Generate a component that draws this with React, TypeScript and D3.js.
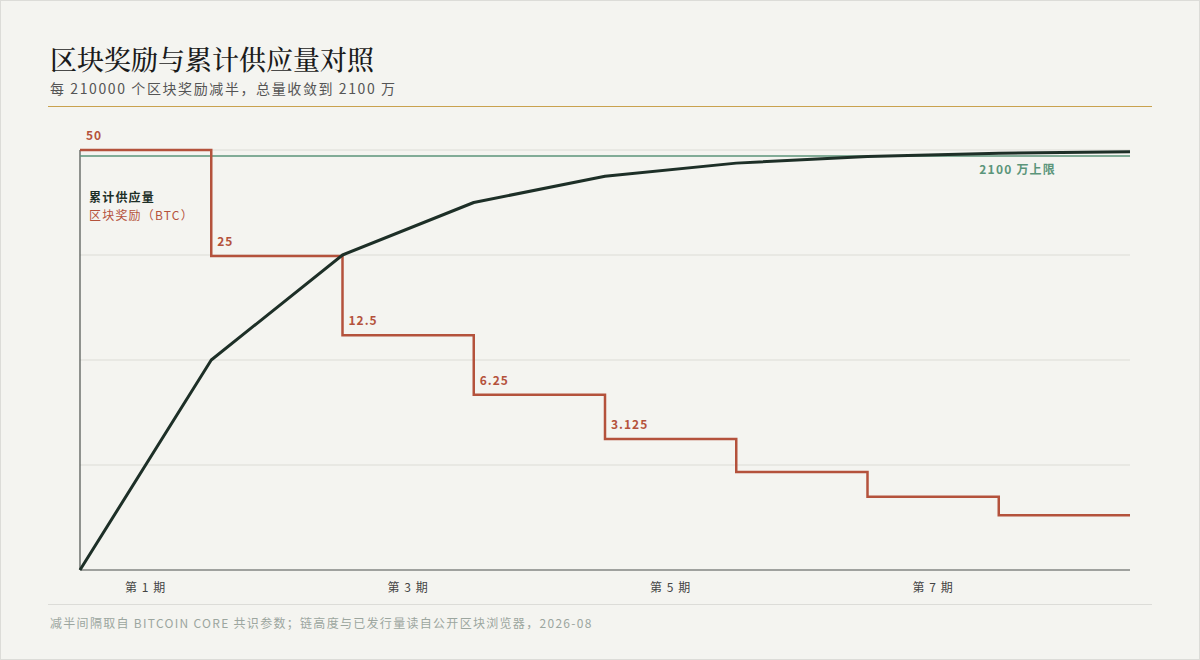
import React from "react";
import * as d3 from "d3";

const PERIODS = [1, 2, 3, 4, 5, 6, 7, 8];
const REWARDS = [50, 25, 12.5, 6.25, 3.125, 1.5625, 0.78125, 0.390625];
const SUPPLY = [0, 10.5, 15.75, 18.375, 19.6875, 20.34375, 20.671875, 20.8359375, 20.91796875];
const REWARD_LABELS = ["50", "25", "12.5", "6.25", "3.125"];
const X_TICKS = [1, 3, 5, 7];
const LIMIT = 21;
const GRID = [5.25, 10.5, 15.75, 21];

const W = 1200, H = 660;
const M = { left: 80, right: 1130, top: 150, bottom: 570 };

export default function App() {
  const x = d3.scaleLinear().domain([0, PERIODS.length]).range([M.left, M.right]);
  const ySupply = d3.scaleLinear().domain([0, LIMIT]).range([M.bottom, M.top]);
  const yReward = d3.scalePow().exponent(0.42).domain([0, 50]).range([M.bottom, M.top]);

  const stepData: [number, number][] = [];
  REWARDS.forEach((r, i) => {
    stepData.push([i, r]);
  });
  stepData.push([REWARDS.length, REWARDS[REWARDS.length - 1]]);
  const stepLine = d3
    .line<[number, number]>()
    .x((d) => x(d[0]))
    .y((d) => yReward(d[1]))
    .curve(d3.curveStepAfter);

  const supplyLine = d3
    .line<number>()
    .x((_, i) => x(i))
    .y((d) => ySupply(d));

  const font = "'Noto Sans CJK SC', 'Noto Sans', sans-serif";
  const red = "#b4523c";
  const dark = "#1d2f27";
  const green = "#5b957a";

  return (
    <div style={{ position: "fixed", left: 0, top: 0, width: W, height: H }}>
      <svg width={W} height={H} style={{ display: "block" }}>
        <rect x={0.5} y={0.5} width={W - 1} height={H - 1} fill="#f4f4f0" stroke="#dcdcd8" />
        <text x={50} y={70} fontFamily={"'Noto Serif CJK SC', serif"} fontSize={27} fontWeight={500} fill="#1b1b1b">
          区块奖励与累计供应量对照
        </text>
        <text x={50} y={94} fontFamily={font} fontSize={14} fill="#555" letterSpacing={1.6}>
          每 210000 个区块奖励减半，总量收敛到 2100 万
        </text>
        <line x1={48} x2={1152} y1={106.5} y2={106.5} stroke="#c9a24e" strokeWidth={1} />

        {GRID.map((g) => (
          <line key={g} x1={M.left} x2={M.right} y1={ySupply(g)} y2={ySupply(g)} stroke="#dcdcd6" strokeWidth={1} />
        ))}

        <line x1={M.left} x2={M.left} y1={M.top} y2={M.bottom} stroke="#4a4f4c" strokeWidth={1.2} />
        <line x1={M.left} x2={M.right} y1={M.bottom} y2={M.bottom} stroke="#4a4f4c" strokeWidth={1.2} />

        <line x1={M.left} x2={M.right} y1={ySupply(LIMIT) + 6} y2={ySupply(LIMIT) + 6} stroke={green} strokeWidth={1.6} />
        <text x={1056} y={174} textAnchor="end" fontFamily={font} fontSize={12} fontWeight={600} fill={green} letterSpacing={1.2}>
          2100 万上限
        </text>

        <path d={stepLine(stepData) || ""} fill="none" stroke={red} strokeWidth={2.5} />
        <path d={supplyLine(SUPPLY) || ""} fill="none" stroke={dark} strokeWidth={3} strokeLinejoin="round" />

        {REWARD_LABELS.map((l, i) => (
          <text key={l} x={x(i) + 6} y={yReward(REWARDS[i]) - 10} fontFamily={font} fontSize={12} fontWeight={600} fill={red} letterSpacing={1}>
            {l}
          </text>
        ))}

        <text x={89} y={202} fontFamily={font} fontSize={12} fontWeight={600} fill={dark} letterSpacing={1.2}>
          累计供应量
        </text>
        <text x={89} y={220} fontFamily={font} fontSize={12} fill={red} letterSpacing={1.2}>
          区块奖励（BTC）
        </text>

        {X_TICKS.map((t) => (
          <text key={t} x={x(t - 0.5)} y={592} textAnchor="middle" fontFamily={font} fontSize={12} fill="#444" letterSpacing={1}>
            {`第 ${t} 期`}
          </text>
        ))}

        <line x1={48} x2={1152} y1={604.5} y2={604.5} stroke="#dcdcd8" strokeWidth={1} />
        <text x={50} y={628} fontFamily={font} fontSize={12} fill="#9ca69f" letterSpacing={1.3}>
          减半间隔取自 BITCOIN CORE 共识参数；链高度与已发行量读自公开区块浏览器，2026-08
        </text>
      </svg>
    </div>
  );
}
